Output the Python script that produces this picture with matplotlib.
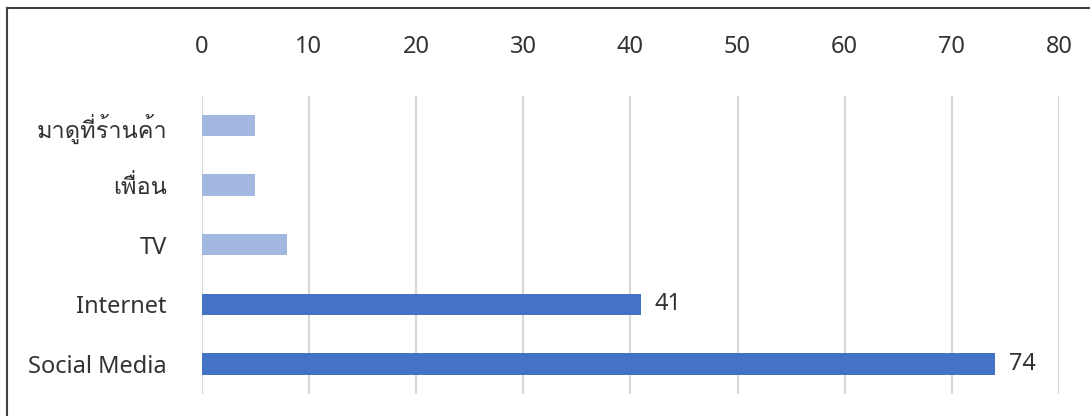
import matplotlib
matplotlib.use("Agg")
import matplotlib.pyplot as plt
from matplotlib import font_manager
from matplotlib.lines import Line2D
from matplotlib.ft2font import FT2Font

categories = ["Social Media", "Internet", "TV", "เพื่อน", "มาดูที่ร้านค้า"]
values = [74, 41, 8, 5, 5]
labeled = [True, True, False, False, False]
xticks = [0, 10, 20, 30, 40, 50, 60, 70, 80]

# find a font with Thai glyphs
thai_fonts = []
for f in font_manager.fontManager.ttflist:
    try:
        cm = FT2Font(f.fname).get_charmap()
        if 0x0E21 in cm and 0x0E40 in cm:
            thai_fonts.append(f.name)
    except Exception:
        pass
thai_fonts = list(dict.fromkeys(thai_fonts))
families = ["Noto Sans"] + thai_fonts + ["DejaVu Sans"]
plt.rcParams["font.family"] = families

dark = "#4472C4"
light = "#A2B8E1"
txt = "#333333"
colors = [dark if v > 20 else light for v in values]

W, H = 1090, 416
fig = plt.figure(figsize=(W / 100, H / 100), dpi=100)
ax = fig.add_axes([201.7 / W, (H - 394) / H, (1059 - 201.7) / W, (394 - 95.5) / H])

ypos = list(range(len(categories)))
ax.barh(ypos, values, height=0.357, color=colors, zorder=3)
ax.set_xlim(0, 80)
ax.set_ylim(-0.5, len(categories) - 0.5)
ax.set_yticks(ypos)
ax.set_yticklabels(categories, fontsize=17, color=txt)
ax.set_xticks(xticks)
ax.set_xticklabels([str(t) for t in xticks], fontsize=17, color=txt)
ax.xaxis.tick_top()
ax.tick_params(axis="x", length=0, pad=26.5)
ax.tick_params(axis="y", length=0, pad=25)
ax.grid(axis="x", color="#D9D9D9", linewidth=1.6, zorder=0)
for s in ax.spines.values():
    s.set_visible(False)

for y, v, lab in zip(ypos, values, labeled):
    if lab:
        ax.text(v + 1.3, y, str(v), va="center", ha="left", fontsize=17, color=txt)

# outer frame lines (top and left)
fig.add_artist(Line2D([7 / W, 1], [1 - 8 / H, 1 - 8 / H], color="#404040", linewidth=1.5))
fig.add_artist(Line2D([7 / W, 7 / W], [0, 1 - 8 / H], color="#404040", linewidth=1.5))

fig.savefig("out.png", dpi=100)
